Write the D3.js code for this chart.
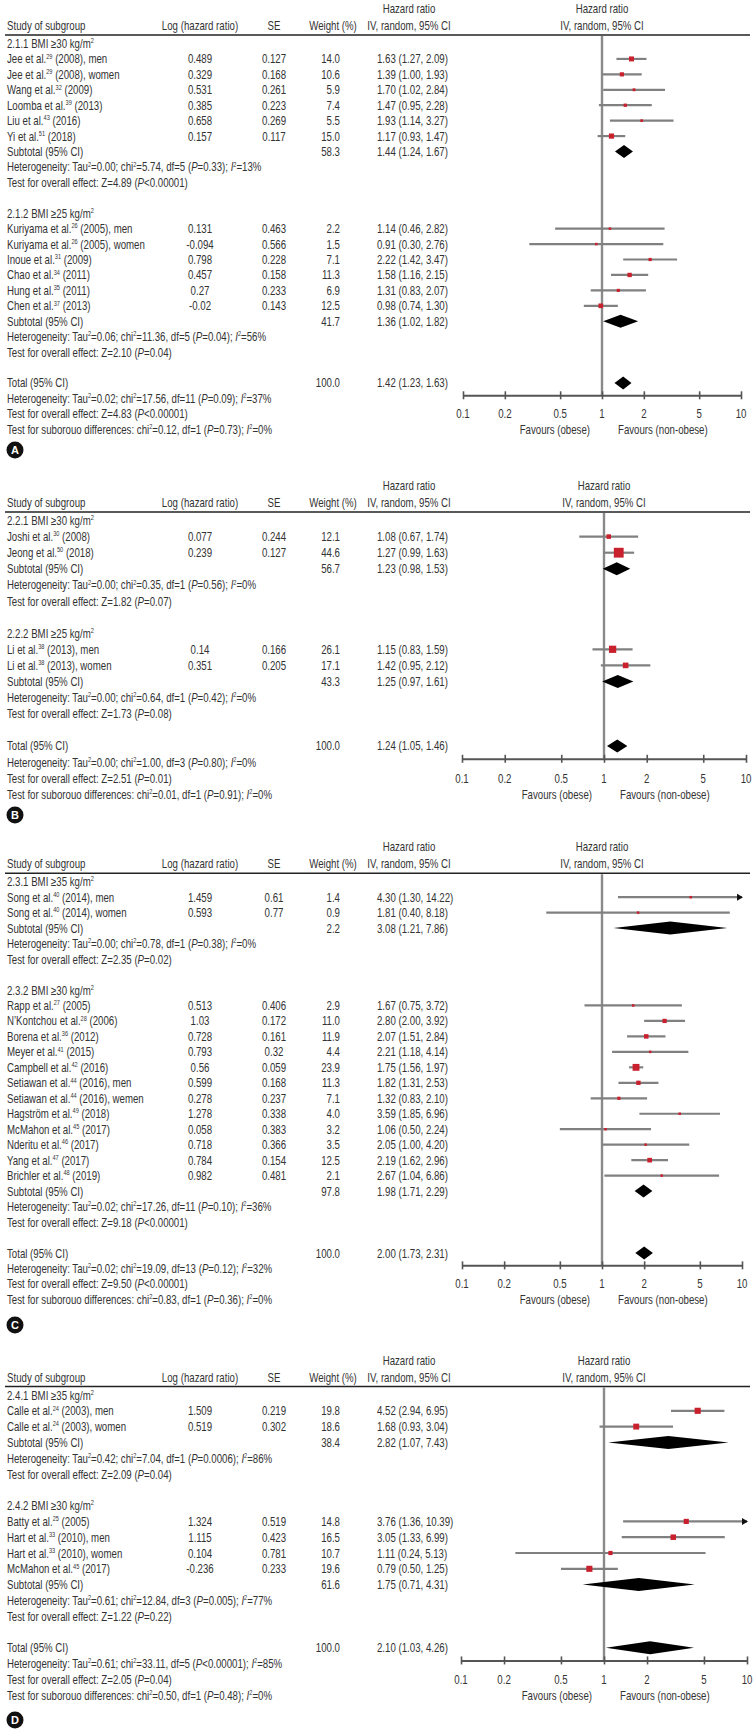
<!DOCTYPE html>
<html><head><meta charset="utf-8">
<script src="https://cdn.jsdelivr.net/npm/d3@7"></script>
<style>body{margin:0;background:#fff} svg{display:block}</style>
</head><body><svg id="chart" width="753" height="1732"></svg>
<script>
// ---------------- DATA ----------------
const tickValues = [0.1, 0.2, 0.5, 1, 2, 5, 10];
const tickLabels = ["0.1", "0.2", "0.5", "1", "2", "5", "10"];
const columnHeaders = ["Study of subgroup", "Log (hazard ratio)", "SE", "Weight (%)", "IV, random, 95% CI"];
const effectHeader = ["Hazard ratio", "IV, random, 95% CI"];
const favours = ["Favours (obese)", "Favours (non-obese)"];
const panelLetters = ["A", "B", "C", "D"];

// Panel A
const groupsA = ["2.1.1 BMI \u226530 kg/m^2^", "2.1.2 BMI \u226525 kg/m^2^"];
const studiesA1 = [
  {study: "Jee et al.^29^ (2008), men", logHR: 0.489, se: 0.127, weight: 14.0, hr: 1.63, lo: 1.27, hi: 2.09},
  {study: "Jee et al.^29^ (2008), women", logHR: 0.329, se: 0.168, weight: 10.6, hr: 1.39, lo: 1.00, hi: 1.93},
  {study: "Wang et al.^32^ (2009)", logHR: 0.531, se: 0.261, weight: 5.9, hr: 1.70, lo: 1.02, hi: 2.84},
  {study: "Loomba et al.^39^ (2013)", logHR: 0.385, se: 0.223, weight: 7.4, hr: 1.47, lo: 0.95, hi: 2.28},
  {study: "Liu et al.^43^ (2016)", logHR: 0.658, se: 0.269, weight: 5.5, hr: 1.93, lo: 1.14, hi: 3.27},
  {study: "Yi et al.^51^ (2018)", logHR: 0.157, se: 0.117, weight: 15.0, hr: 1.17, lo: 0.93, hi: 1.47}
];
const studiesA2 = [
  {study: "Kuriyama et al.^26^ (2005), men", logHR: 0.131, se: 0.463, weight: 2.2, hr: 1.14, lo: 0.46, hi: 2.82},
  {study: "Kuriyama et al.^26^ (2005), women", logHR: -0.094, se: 0.566, weight: 1.5, hr: 0.91, lo: 0.30, hi: 2.76},
  {study: "Inoue et al.^31^ (2009)", logHR: 0.798, se: 0.228, weight: 7.1, hr: 2.22, lo: 1.42, hi: 3.47},
  {study: "Chao et al.^34^ (2011)", logHR: 0.457, se: 0.158, weight: 11.3, hr: 1.58, lo: 1.16, hi: 2.15},
  {study: "Hung et al.^35^ (2011)", logHR: 0.27, se: 0.233, weight: 6.9, hr: 1.31, lo: 0.83, hi: 2.07},
  {study: "Chen et al.^37^ (2013)", logHR: -0.02, se: 0.143, weight: 12.5, hr: 0.98, lo: 0.74, hi: 1.30}
];
const subtotalsA = [
  {weight: 58.3, hr: 1.44, lo: 1.24, hi: 1.67,
   het: "Heterogeneity: Tau^2^=0.00; chi^2^=5.74, df=5 (_P_=0.33); _I_^2^=13%",
   test: "Test for overall effect: Z=4.89 (_P_<0.00001)"},
  {weight: 41.7, hr: 1.36, lo: 1.02, hi: 1.82,
   het: "Heterogeneity: Tau^2^=0.06; chi^2^=11.36, df=5 (_P_=0.04); _I_^2^=56%",
   test: "Test for overall effect: Z=2.10 (_P_=0.04)"}
];
const totalA = {weight: 100.0, hr: 1.42, lo: 1.23, hi: 1.63,
  het: "Heterogeneity: Tau^2^=0.02; chi^2^=17.56, df=11 (_P_=0.09); _I_^2^=37%",
  test: "Test for overall effect: Z=4.83 (_P_<0.00001)",
  sub: "Test for suborouo differences: chi^2^=0.12, df=1 (_P_=0.73); _I_^2^=0%"};

// Panel B
const groupsB = ["2.2.1 BMI \u226530 kg/m^2^", "2.2.2 BMI \u226525 kg/m^2^"];
const studiesB1 = [
  {study: "Joshi et al.^30^ (2008)", logHR: 0.077, se: 0.244, weight: 12.1, hr: 1.08, lo: 0.67, hi: 1.74},
  {study: "Jeong et al.^50^ (2018)", logHR: 0.239, se: 0.127, weight: 44.6, hr: 1.27, lo: 0.99, hi: 1.63}
];
const studiesB2 = [
  {study: "Li et al.^38^ (2013), men", logHR: 0.14, se: 0.166, weight: 26.1, hr: 1.15, lo: 0.83, hi: 1.59},
  {study: "Li et al.^38^ (2013), women", logHR: 0.351, se: 0.205, weight: 17.1, hr: 1.42, lo: 0.95, hi: 2.12}
];
const subtotalsB = [
  {weight: 56.7, hr: 1.23, lo: 0.98, hi: 1.53,
   het: "Heterogeneity: Tau^2^=0.00; chi^2^=0.35, df=1 (_P_=0.56); _I_^2^=0%",
   test: "Test for overall effect: Z=1.82 (_P_=0.07)"},
  {weight: 43.3, hr: 1.25, lo: 0.97, hi: 1.61,
   het: "Heterogeneity: Tau^2^=0.00; chi^2^=0.64, df=1 (_P_=0.42); _I_^2^=0%",
   test: "Test for overall effect: Z=1.73 (_P_=0.08)"}
];
const totalB = {weight: 100.0, hr: 1.24, lo: 1.05, hi: 1.46,
  het: "Heterogeneity: Tau^2^=0.00; chi^2^=1.00, df=3 (_P_=0.80); _I_^2^=0%",
  test: "Test for overall effect: Z=2.51 (_P_=0.01)",
  sub: "Test for suborouo differences: chi^2^=0.01, df=1 (_P_=0.91); _I_^2^=0%"};

// Panel C
const groupsC = ["2.3.1 BMI \u226535 kg/m^2^", "2.3.2 BMI \u226530 kg/m^2^"];
const studiesC1 = [
  {study: "Song et al.^40^ (2014), men", logHR: 1.459, se: 0.61, weight: 1.4, hr: 4.30, lo: 1.30, hi: 14.22},
  {study: "Song et al.^40^ (2014), women", logHR: 0.593, se: 0.77, weight: 0.9, hr: 1.81, lo: 0.40, hi: 8.18}
];
const studiesC2 = [
  {study: "Rapp et al.^27^ (2005)", logHR: 0.513, se: 0.406, weight: 2.9, hr: 1.67, lo: 0.75, hi: 3.72},
  {study: "N\u2019Kontchou et al.^28^ (2006)", logHR: 1.03, se: 0.172, weight: 11.0, hr: 2.80, lo: 2.00, hi: 3.92},
  {study: "Borena et al.^36^ (2012)", logHR: 0.728, se: 0.161, weight: 11.9, hr: 2.07, lo: 1.51, hi: 2.84},
  {study: "Meyer et al.^41^ (2015)", logHR: 0.793, se: 0.32, weight: 4.4, hr: 2.21, lo: 1.18, hi: 4.14},
  {study: "Campbell et al.^42^ (2016)", logHR: 0.56, se: 0.059, weight: 23.9, hr: 1.75, lo: 1.56, hi: 1.97},
  {study: "Setiawan et al.^44^ (2016), men", logHR: 0.599, se: 0.168, weight: 11.3, hr: 1.82, lo: 1.31, hi: 2.53},
  {study: "Setiawan et al.^44^ (2016), wemen", logHR: 0.278, se: 0.237, weight: 7.1, hr: 1.32, lo: 0.83, hi: 2.10},
  {study: "Hagstr\u00f6m et al.^49^ (2018)", logHR: 1.278, se: 0.338, weight: 4.0, hr: 3.59, lo: 1.85, hi: 6.96},
  {study: "McMahon et al.^45^ (2017)", logHR: 0.058, se: 0.383, weight: 3.2, hr: 1.06, lo: 0.50, hi: 2.24},
  {study: "Nderitu et al.^46^ (2017)", logHR: 0.718, se: 0.366, weight: 3.5, hr: 2.05, lo: 1.00, hi: 4.20},
  {study: "Yang et al.^47^ (2017)", logHR: 0.784, se: 0.154, weight: 12.5, hr: 2.19, lo: 1.62, hi: 2.96},
  {study: "Brichler et al.^48^ (2019)", logHR: 0.982, se: 0.481, weight: 2.1, hr: 2.67, lo: 1.04, hi: 6.86}
];
const subtotalsC = [
  {weight: 2.2, hr: 3.08, lo: 1.21, hi: 7.86,
   het: "Heterogeneity: Tau^2^=0.00; chi^2^=0.78, df=1 (_P_=0.38); _I_^2^=0%",
   test: "Test for overall effect: Z=2.35 (_P_=0.02)"},
  {weight: 97.8, hr: 1.98, lo: 1.71, hi: 2.29,
   het: "Heterogeneity: Tau^2^=0.02; chi^2^=17.26, df=11 (_P_=0.10); _I_^2^=36%",
   test: "Test for overall effect: Z=9.18 (_P_<0.00001)"}
];
const totalC = {weight: 100.0, hr: 2.00, lo: 1.73, hi: 2.31,
  het: "Heterogeneity: Tau^2^=0.02; chi^2^=19.09, df=13 (_P_=0.12); _I_^2^=32%",
  test: "Test for overall effect: Z=9.50 (_P_<0.00001)",
  sub: "Test for suborouo differences: chi^2^=0.83, df=1 (_P_=0.36); _I_^2^=0%"};

// Panel D
const groupsD = ["2.4.1 BMI \u226535 kg/m^2^", "2.4.2 BMI \u226530 kg/m^2^"];
const studiesD1 = [
  {study: "Calle et al.^24^ (2003), men", logHR: 1.509, se: 0.219, weight: 19.8, hr: 4.52, lo: 2.94, hi: 6.95},
  {study: "Calle et al.^24^ (2003), women", logHR: 0.519, se: 0.302, weight: 18.6, hr: 1.68, lo: 0.93, hi: 3.04}
];
const studiesD2 = [
  {study: "Batty et al.^25^ (2005)", logHR: 1.324, se: 0.519, weight: 14.8, hr: 3.76, lo: 1.36, hi: 10.39},
  {study: "Hart et al.^33^ (2010), men", logHR: 1.115, se: 0.423, weight: 16.5, hr: 3.05, lo: 1.33, hi: 6.99},
  {study: "Hart et al.^33^ (2010), women", logHR: 0.104, se: 0.781, weight: 10.7, hr: 1.11, lo: 0.24, hi: 5.13},
  {study: "McMahon et al.^45^ (2017)", logHR: -0.236, se: 0.233, weight: 19.6, hr: 0.79, lo: 0.50, hi: 1.25}
];
const subtotalsD = [
  {weight: 38.4, hr: 2.82, lo: 1.07, hi: 7.43,
   het: "Heterogeneity: Tau^2^=0.42; chi^2^=7.04, df=1 (_P_=0.0006); _I_^2^=86%",
   test: "Test for overall effect: Z=2.09 (_P_=0.04)"},
  {weight: 61.6, hr: 1.75, lo: 0.71, hi: 4.31,
   het: "Heterogeneity: Tau^2^=0.61; chi^2^=12.84, df=3 (_P_=0.005); _I_^2^=77%",
   test: "Test for overall effect: Z=1.22 (_P_=0.22)"}
];
const totalD = {weight: 100.0, hr: 2.10, lo: 1.03, hi: 4.26,
  het: "Heterogeneity: Tau^2^=0.61; chi^2^=33.11, df=5 (_P_<0.00001); _I_^2^=85%",
  test: "Test for overall effect: Z=2.05 (_P_=0.04)",
  sub: "Test for suborouo differences: chi^2^=0.50, df=1 (_P_=0.48); _I_^2^=0%"};

// ---------------- LAYOUT ----------------
const panels = [
  {letter: panelLetters[0], groups: groupsA, studies: [studiesA1, studiesA2], subtotals: subtotalsA, total: totalA,
   row0: 43.5, step: 15.43, range: [463, 741], letterY: 450},
  {letter: panelLetters[1], groups: groupsB, studies: [studiesB1, studiesB2], subtotals: subtotalsB, total: totalB,
   row0: 520.5, step: 16.1, range: [462, 746], letterY: 815},
  {letter: panelLetters[2], groups: groupsC, studies: [studiesC1, studiesC2], subtotals: subtotalsC, total: totalC,
   row0: 881.7, step: 15.47, range: [462, 742], letterY: 1325},
  {letter: panelLetters[3], groups: groupsD, studies: [studiesD1, studiesD2], subtotals: subtotalsD, total: totalD,
   row0: 1395, step: 15.8, range: [461, 747], letterY: 1720}
];

const COL = {label: 7, logHR: 200, se: 274, weight: 340, ci: 377, ciHead: 409};
const FONT = "'Liberation Sans Narrow','Arial Narrow','Liberation Sans',Arial,sans-serif";
const FS = 12.6;
const TXT = "#333";
const RED = "#c9202e";
const CI_COL = "#808080";

const svg = d3.select("#chart");
svg.append("rect").attr("width", 753).attr("height", 1732).attr("fill", "#fff");

// measure horizontal compression so the text matches the condensed face of the reference
const probe = svg.append("text").attr("font-family", FONT).attr("font-size", FS).text(columnHeaders[0]);
const natural = probe.node().getComputedTextLength();
probe.remove();
const SX = 78.5 / natural;

function rich(textSel, str) {
  const parts = str.split(/(\^[^^]*\^|_[^_]*_)/).filter(s => s.length);
  let shift = 0;
  parts.forEach(p => {
    const ts = textSel.append("tspan");
    let s = p, sup = false, ital = false;
    if (p.startsWith("^") && p.endsWith("^")) { sup = true; s = p.slice(1, -1); }
    else if (p.startsWith("_") && p.endsWith("_")) { ital = true; s = p.slice(1, -1); }
    const target = sup ? -4.8 : 0;
    if (target !== shift) { ts.attr("dy", target - shift); shift = target; }
    if (sup) ts.attr("font-size", FS * 0.58);
    if (ital) ts.attr("font-style", "italic");
    ts.text(s);
  });
}

function label(g, x, y, str, anchor) {
  const t = g.append("text")
    .attr("transform", `translate(${x},${y}) scale(${SX},1)`)
    .attr("text-anchor", anchor || "start")
    .attr("dy", "0.36em")
    .attr("font-family", FONT).attr("font-size", FS).attr("fill", TXT);
  rich(t, str);
  return t;
}

const fmtCI = d => `${d.hr.toFixed(2)} (${d.lo.toFixed(2)}, ${d.hi.toFixed(2)})`;

panels.forEach(P => {
  const g = svg.append("g");
  const x = d3.scaleLog().domain([0.1, 10]).range(P.range);
  const rowY = i => P.row0 + i * P.step;
  const xNull = x(1);

  const rows = [];
  P.groups.forEach((grp, gi) => {
    rows.push({type: "group", text: grp});
    P.studies[gi].forEach(s => rows.push({type: "study", d: s}));
    rows.push({type: "subtotal", d: P.subtotals[gi]});
    rows.push({type: "text", text: P.subtotals[gi].het});
    rows.push({type: "text", text: P.subtotals[gi].test});
    rows.push({type: "blank"});
  });
  const totalIdx = rows.length;
  rows.push({type: "total", d: P.total});
  rows.push({type: "text", text: P.total.het});
  rows.push({type: "text", text: P.total.test});
  rows.push({type: "text", text: P.total.sub});

  const ruleY = P.row0 - 8.5;
  const axisY = rowY(totalIdx) + P.step * 0.8;

  // headers
  label(g, COL.ciHead, P.row0 - 35, effectHeader[0], "middle");
  label(g, xNull, P.row0 - 35, effectHeader[0], "middle");
  const h2 = P.row0 - 18;
  label(g, COL.label, h2, columnHeaders[0], "start");
  label(g, COL.logHR, h2, columnHeaders[1], "middle");
  label(g, COL.se, h2, columnHeaders[2], "middle");
  label(g, 333, h2, columnHeaders[3], "middle");
  label(g, COL.ciHead, h2, columnHeaders[4], "middle");
  label(g, xNull, h2, effectHeader[1], "middle");
  g.append("line").attr("x1", 5).attr("x2", 750).attr("y1", ruleY).attr("y2", ruleY)
    .attr("stroke", "#222").attr("stroke-width", 1.4);

  // null line
  g.append("line").attr("x1", xNull).attr("x2", xNull).attr("y1", ruleY + 1).attr("y2", axisY)
    .attr("stroke", "#8a8a8a").attr("stroke-width", 2.4);

  // axis
  const axis = d3.axisBottom(x).tickValues(tickValues).tickFormat("").tickSize(4).tickSizeOuter(0);
  const ag = g.append("g").attr("transform", `translate(0,${axisY})`).call(axis);
  ag.select(".domain").attr("stroke", "#555").attr("stroke-width", 2);
  ag.selectAll(".tick line").attr("stroke", "#555").attr("stroke-width", 1.6).attr("y1", -4).attr("y2", 4);
  tickValues.forEach((v, i) => label(g, x(v), rowY(totalIdx + 2), tickLabels[i], "middle"));
  label(g, xNull - 12, rowY(totalIdx + 3), favours[0], "end");
  label(g, xNull + 16, rowY(totalIdx + 3), favours[1], "start");

  const diamond = (y, d) => {
    const h = 6.5;
    g.append("path")
      .attr("d", `M${x(d.lo)},${y} L${x(d.hr)},${y - h} L${x(d.hi)},${y} L${x(d.hr)},${y + h} Z`)
      .attr("fill", "#000");
  };

  rows.forEach((r, i) => {
    const y = rowY(i);
    if (r.type === "group" || r.type === "text") {
      label(g, COL.label, y, r.text, "start");
    } else if (r.type === "study") {
      const d = r.d;
      label(g, COL.label, y, d.study, "start");
      label(g, COL.logHR, y, String(d.logHR), "middle");
      label(g, COL.se, y, String(d.se), "middle");
      label(g, COL.weight, y, d.weight.toFixed(1), "end");
      label(g, COL.ci, y, fmtCI(d), "start");
      const lo = Math.max(d.lo, 0.1), hi = Math.min(d.hi, 10);
      g.append("line").attr("x1", x(lo)).attr("x2", x(hi)).attr("y1", y).attr("y2", y)
        .attr("stroke", CI_COL).attr("stroke-width", 2.2);
      if (d.hi > 10) {
        const xe = x(10);
        g.append("path").attr("d", `M${xe + 1},${y} L${xe - 5},${y - 3.5} L${xe - 5},${y + 3.5} Z`).attr("fill", "#111");
      }
      const s = Math.max(2.5, 1.65 * Math.sqrt(d.weight) - 1.2);
      g.append("rect").attr("x", x(d.hr) - s / 2).attr("y", y - s / 2).attr("width", s).attr("height", s)
        .attr("fill", RED);
    } else if (r.type === "subtotal" || r.type === "total") {
      const d = r.d;
      label(g, COL.label, y, r.type === "subtotal" ? "Subtotal (95% CI)" : "Total (95% CI)", "start");
      label(g, COL.weight, y, d.weight.toFixed(1), "end");
      label(g, COL.ci, y, fmtCI(d), "start");
      diamond(y, d);
    }
  });

  // panel letter
  g.append("circle").attr("cx", 15).attr("cy", P.letterY).attr("r", 8.5).attr("fill", "#111");
  g.append("text").attr("x", 15).attr("y", P.letterY).attr("dy", "0.36em").attr("text-anchor", "middle")
    .attr("font-family", "'Liberation Sans',Arial,sans-serif").attr("font-weight", "bold")
    .attr("font-size", 11).attr("fill", "#fff").text(P.letter);
});
</script></body></html>
